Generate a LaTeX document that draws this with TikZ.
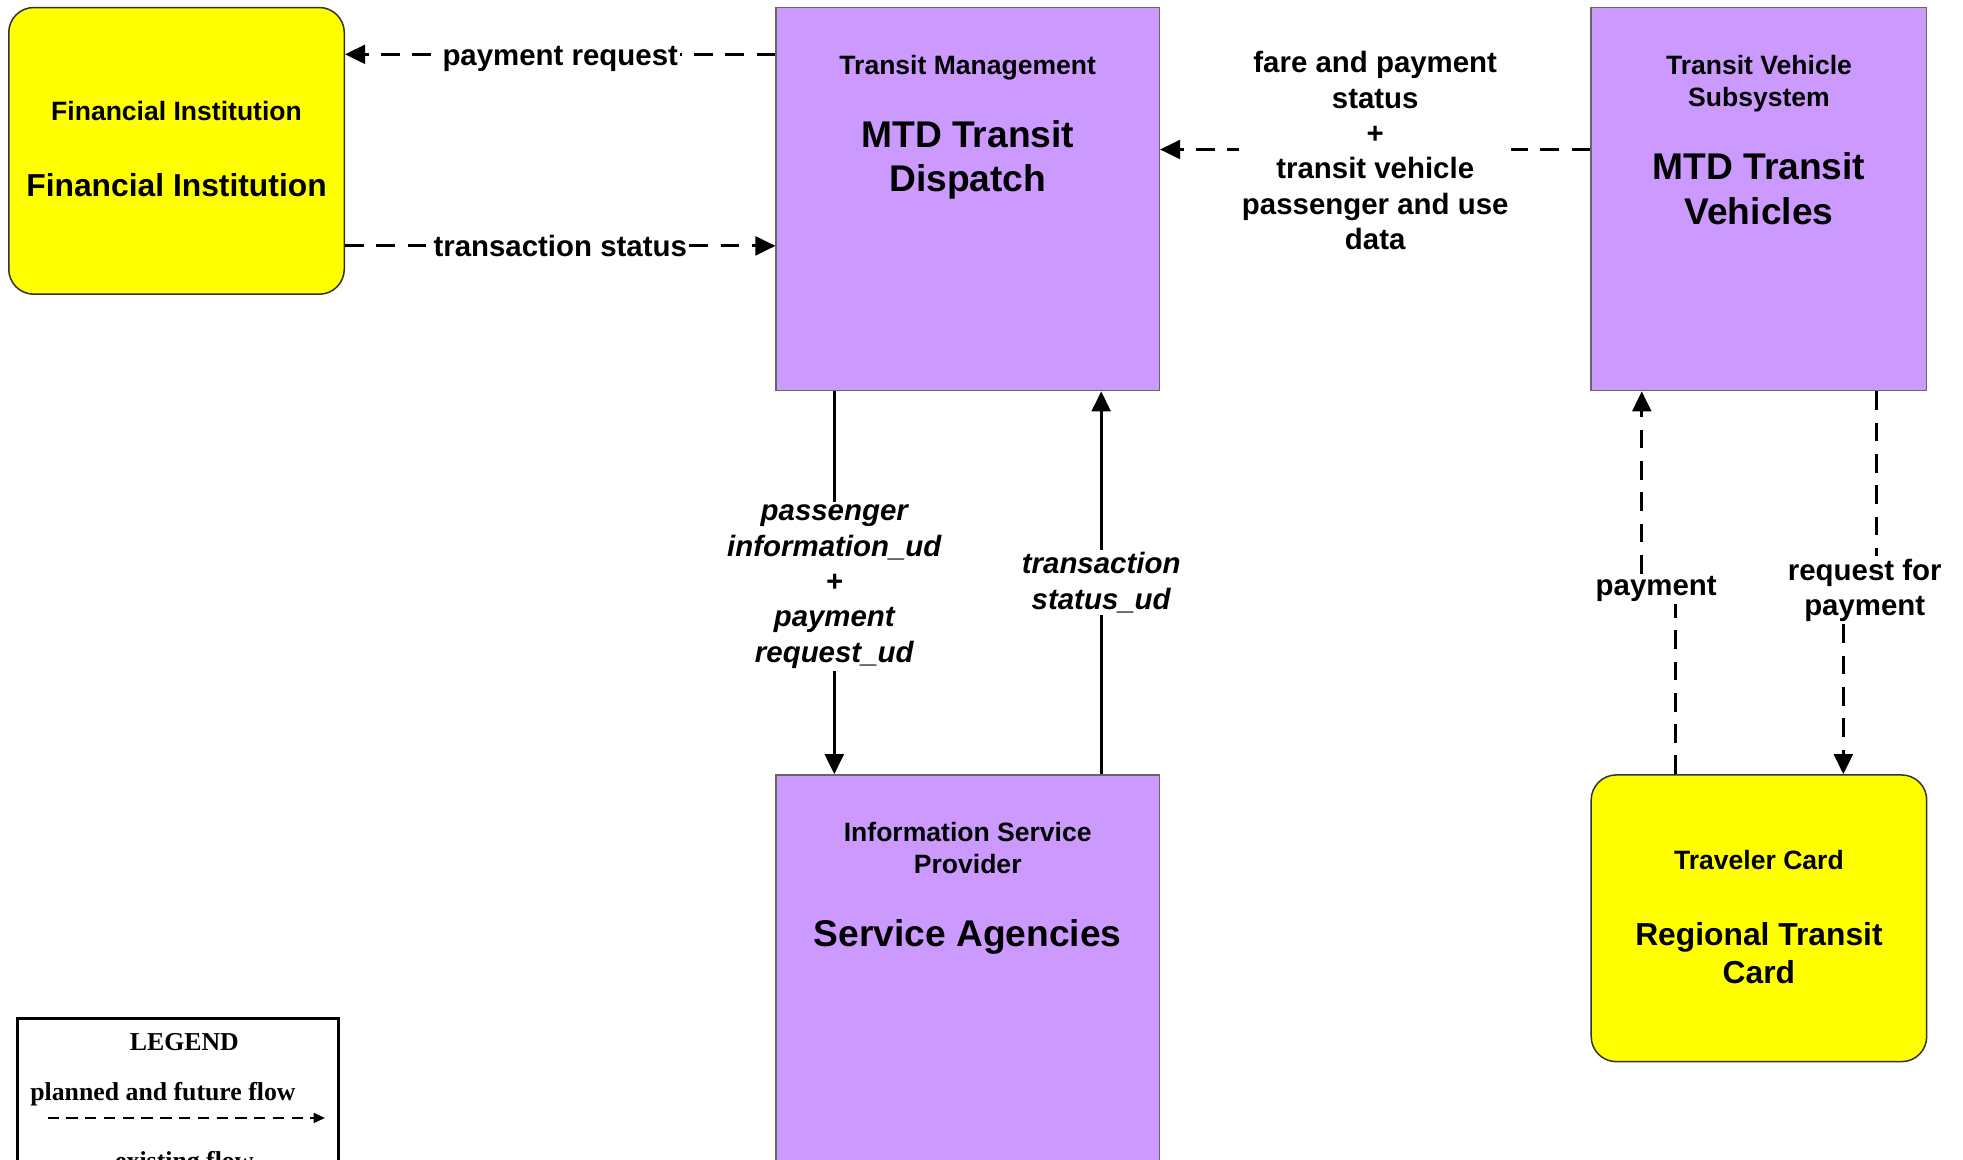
\documentclass[tikz,border=0pt]{standalone}
\usepackage{fontspec}
\setmainfont{Liberation Sans}
\newfontfamily\legendfont{Liberation Serif}
\RequirePackage{xcolor}
\definecolor{archpurple}{HTML}{CC99FF}
\definecolor{archyellow}{HTML}{FFFF00}
\tikzset{every picture/.style={/utils/exec={\bfseries}}}
\usetikzlibrary{calc}
\usetikzlibrary{positioning}
\usetikzlibrary{arrows.meta}

\tikzset{
  >={Triangle[length=16pt,width=15pt]},
  subsystem/.style={draw=black!60, line width=1.2pt, fill=archpurple, inner sep=0pt},
  terminator/.style={draw=black!80, line width=1.2pt, fill=archyellow, rounded corners=20pt, inner sep=0pt},
  kindtext/.style={align=center, inner sep=0pt, font=\fontsize{21.2}{25.4}\selectfont\bfseries},
  nametext/.style={align=center, inner sep=0pt, font=\fontsize{29.7}{35.6}\selectfont\bfseries},
  termname/.style={nametext, font=\fontsize{25.4}{30.5}\selectfont\bfseries},
  flowlabel/.style={fill=white, align=center, inner sep=2pt, font=\fontsize{23.5}{28.2}\selectfont\bfseries},
  udlabel/.style={flowlabel, font=\fontsize{23.5}{28.2}\selectfont\bfseries\itshape},
  legendtext/.style={inner sep=0pt, font=\legendfont\fontsize{20.6}{24.7}\selectfont\bfseries},
  future/.style={line width=2.3pt, dash pattern=on 15pt off 10pt},
  existing/.style={line width=2.3pt},
}

\begin{document}
\begin{tikzpicture}[x=1pt, y=-1pt]
  \useasboundingbox (0,0) rectangle (1568,926);

  % boxes
  \node [terminator, minimum width=268pt, minimum height=229pt] (fi) at (141,120.5) {};
  \node [subsystem, minimum width=306pt, minimum height=306pt] (tm) at (773,159) {};
  \node [subsystem, minimum width=268pt, minimum height=306pt] (tvs) at (1405,159) {};
  \node [subsystem, minimum width=306pt, minimum height=380pt] (isp) at (773,809) {};
  \node [terminator, minimum width=268pt, minimum height=229pt] (tc) at (1405,733.5) {};

  \node [kindtext, below=75.4pt of fi.north] (fi-kind) {Financial Institution};
  \node [termname, below=132.9pt of fi.north] (fi-name) {Financial Institution};
  \node [kindtext, below=38.4pt of tm.north] (tm-kind) {Transit Management};
  \node [nametext, below=90.3pt of tm.north] (tm-name) {MTD Transit\\Dispatch};
  \node [kindtext, below=38.4pt of tvs.north] (tvs-kind) {Transit Vehicle\\Subsystem};
  \node [nametext, below=116.3pt of tvs.north] (tvs-name) {MTD Transit\\Vehicles};
  \node [kindtext, below=38.4pt of isp.north] (isp-kind) {Information Service\\Provider};
  \node [nametext, below=116.3pt of isp.north] (isp-name) {Service Agencies};
  \node [kindtext, below=60.4pt of tc.north] (tc-kind) {Traveler Card};
  \node [termname, below=117.9pt of tc.north] (tc-name) {Regional Transit\\Card};

  % flows
  \coordinate (tm-payreq) at ($(tm.north west)+(0,38)$);
  \draw [future, ->] (tm-payreq) -- node [flowlabel, yshift=-4pt] (lbl-payreq) {payment request} (tm-payreq -| fi.east);

  \coordinate (fi-trans) at ($(fi.north east)+(0,191)$);
  \draw [future, ->] (fi-trans) -- node [flowlabel] (lbl-trans) {transaction status} (fi-trans -| tm.west);

  \coordinate (tvs-fare) at ($(tvs.north west)+(0,114)$);
  \draw [future, ->] (tvs-fare) -- node [flowlabel, yshift=-1pt] (lbl-fare) {fare and payment\\status\\+\\transit vehicle\\passenger and use\\data} (tvs-fare -| tm.east);

  \coordinate (tm-info) at ($(tm.south west)+(47,0)$);
  \draw [existing, ->] (tm-info) -- node [udlabel, yshift=-3pt] (lbl-info) {passenger\\information\_ud\\+\\payment\\request\_ud} (tm-info |- isp.north);

  \coordinate (isp-trans) at ($(isp.north east)+(-47,0)$);
  \draw [existing, ->] (isp-trans) -- node [udlabel] (lbl-transud) {transaction\\status\_ud} (isp-trans |- tm.south);

  \coordinate (tc-pay) at ($(tc.north west)+(68,0)$);
  \coordinate (tvs-pay) at ($(tvs.south west)+(41,0)$);
  \node [flowlabel] (lbl-pay) at ($(tc-pay)!0.5!(tvs-pay)+(-2,5)$) {payment};
  \draw [future] (tc-pay) -- (lbl-pay.south -| tc-pay);
  \draw [future, ->] (lbl-pay.north -| tvs-pay) -- (tvs-pay);

  \coordinate (tvs-req) at ($(tvs.south east)+(-41,0)$);
  \coordinate (tc-req) at ($(tc.north west)+(202,0)$);
  \node [flowlabel] (lbl-req) at ($(tvs-req)!0.5!(tc-req)+(4,6)$) {request for\\payment};
  \draw [future] (tvs-req) -- (lbl-req.north -| tvs-req);
  \draw [future, ->] (lbl-req.south -| tc-req) -- (tc-req);

  % legend
  \node [draw, line width=2.5pt, minimum width=256pt, minimum height=180pt, anchor=north west] (legend) at (13,812) {};
  \node [legendtext, anchor=north] (legend-title) at ($(legend.north)+(5,13)$) {LEGEND};
  \node [legendtext, anchor=north west] (legend-future) at ($(legend.north west)+(11,52)$) {planned and future flow};
  \coordinate (legend-a) at ($(legend.north west)+(25,81)$);
  \coordinate (legend-b) at ($(legend.north east)+(-12,81)$);
  \draw [line width=1.5pt, dash pattern=on 9pt off 6pt, -{Triangle[length=9pt,width=8pt]}] (legend-a) -- (legend-b);
  \node [legendtext, anchor=base] (legend-existing) at ($(legend.north)+(5,122)$) {existing flow};
\end{tikzpicture}
\end{document}
